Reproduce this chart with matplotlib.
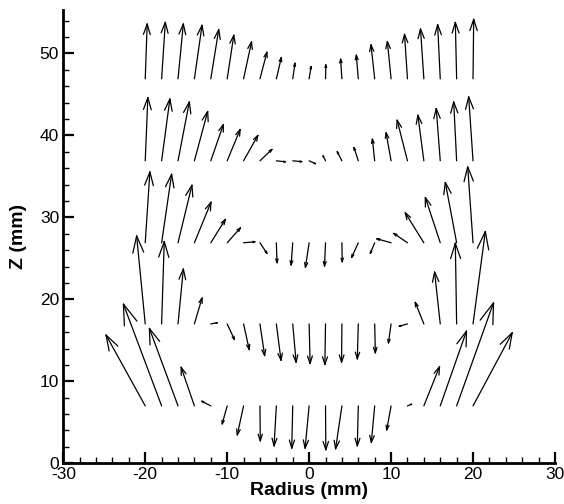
import numpy as np
import matplotlib
matplotlib.use('Agg')
import matplotlib.pyplot as plt
from matplotlib.collections import LineCollection
from matplotlib.ticker import MultipleLocator

# radial stations of the vectors (mm)
radius = [-20, -18, -16, -14, -12, -10, -8, -6, -4, -2, 0,
          2, 4, 6, 8, 10, 12, 14, 16, 18, 20]

# axial heights of the rows (mm)
z_rows = [7, 17, 26.9, 36.9, 46.9]

# vector components per row (radial u, axial w)
u_z7 = [-4.78, -4.66, -3.49, -1.62, -1.1, -0.61, -0.77, 0.04, -0.28, -0.12, -0.49,
        0.04, -0.77, -0.12, -0.41, -0.53, 0.5, 1.91, 3.2, 4.5, 4.78]
w_z7 = [8.64, 12.41, 9.45, 4.71, 0.57, -2.19, -3.53, -4.26, -4.87, -5.15, -5.15,
        -5.35, -5.23, -4.87, -4.46, -2.92, 0.2, 4.78, 9.12, 12.57, 8.92]

u_z17 = [-1.05, 0.32, 0.65, 0.93, 0.8, 0.89, 0.69, 0.57, 0.57, 0.41, 0.12,
         -0.08, -0.04, -0.12, 0.08, -0.32, -1.0, -1.05, -0.69, -0.16, 1.5]
w_z17 = [10.74, 10.05, 6.69, 3.16, 0.15, -1.91, -3.13, -3.86, -4.43, -4.67, -4.83,
         -4.95, -4.67, -4.26, -3.53, -2.31, -0.28, 2.63, 6.33, 9.85, 11.27]

u_z27 = [0.57, 1.22, 1.70, 2.03, 1.78, 1.62, 1.38, 0.85, 0.08, -0.2, -0.45,
         -0.12, 0.04, -0.81, -0.53, -1.74, -1.66, -2.27, -1.82, -1.38, -0.65]
w_z27 = [8.64, 8.36, 7.02, 4.95, 2.85, 1.82, 0.12, -1.29, -2.43, -2.71, -2.99,
         -2.83, -2.31, -1.78, -1.29, 0.49, 1.14, 3.65, 5.52, 7.35, 9.25]

u_z37 = [0.32, 1.01, 1.38, 1.62, 1.54, 1.58, 1.74, 1.46, 1.1, 1.1, 0.77,
         -0.3, -0.57, -0.53, -0.28, -0.61, -1.26, -0.73, -0.49, -0.36, -0.53]
w_z37 = [7.71, 7.54, 7.18, 6.01, 4.43, 3.82, 3.09, 1.39, -0.12, -0.1, -0.35,
         0.6, 1.1, 1.62, 2.64, 3.41, 4.95, 5.56, 6.37, 7.18, 7.79]

u_z47 = [0.24, 0.45, 0.65, 0.93, 0.97, 0.81, 0.97, 0.85, 0.61, 0.28, 0.24,
         0.04, -0.16, -0.24, -0.45, -0.45, -0.36, -0.41, -0.32, -0.16, 0.08]
w_z47 = [6.69, 6.89, 6.69, 6.53, 6.0, 5.31, 4.5, 3.24, 2.6, 1.9, 1.5,
         1.7, 2.4, 2.88, 4.14, 4.54, 5.43, 6.08, 6.61, 6.89, 7.26]

u_rows = [u_z7, u_z17, u_z27, u_z37, u_z47]
w_rows = [w_z7, w_z17, w_z27, w_z37, w_z47]


def arrow_segments(x, y, u, v, head_frac=0.2, half_angle=18):
    # shaft plus two open barbs, barb length proportional to vector length
    x, y, u, v = map(np.asarray, (x, y, u, v))
    hx, hy = x + u, y + v
    length = np.hypot(u, v)
    theta = np.arctan2(v, u)
    a = np.deg2rad(half_angle)
    h = head_frac * length
    segs = []
    for i in range(len(x)):
        segs.append([(x[i], y[i]), (hx[i], hy[i])])
        for s in (a, -a):
            bx = hx[i] - h[i] * np.cos(theta[i] + s)
            by = hy[i] - h[i] * np.sin(theta[i] + s)
            segs.append([(hx[i], hy[i]), (bx, by)])
    return segs


def main():
    plt.rcParams['font.family'] = ['Liberation Sans', 'DejaVu Sans']
    plt.rcParams['axes.unicode_minus'] = False

    fig = plt.figure(figsize=(5.64, 5.04), dpi=100)
    ax = fig.add_axes([0.1122, 0.0808, 0.8718, 0.8994])

    segs = []
    for z, u, w in zip(z_rows, u_rows, w_rows):
        segs += arrow_segments(radius, [z] * len(radius), u, w)
    ax.add_collection(LineCollection(segs, colors='black', linewidths=0.9,
                                     capstyle='round', joinstyle='round'))

    ax.set_xlim(-30, 30)
    ax.set_ylim(0, 55.3)

    for side in ('top', 'right'):
        ax.spines[side].set_visible(False)
    for side in ('left', 'bottom'):
        ax.spines[side].set_linewidth(2.0)

    ax.xaxis.set_major_locator(MultipleLocator(10))
    ax.xaxis.set_minor_locator(MultipleLocator(2))
    ax.yaxis.set_major_locator(MultipleLocator(10))
    ax.yaxis.set_minor_locator(MultipleLocator(2))
    ax.tick_params(which='major', direction='in', length=8, width=1.6,
                   labelsize=12.5, pad=3)
    ax.tick_params(which='minor', direction='in', length=4.3, width=1.0)

    ax.set_xlabel('Radius (mm)', fontsize=14, fontweight='bold', labelpad=0)
    ax.set_ylabel('Z (mm)', fontsize=14, fontweight='bold', labelpad=9)

    fig.savefig('out.png', dpi=100)


if __name__ == '__main__':
    main()
